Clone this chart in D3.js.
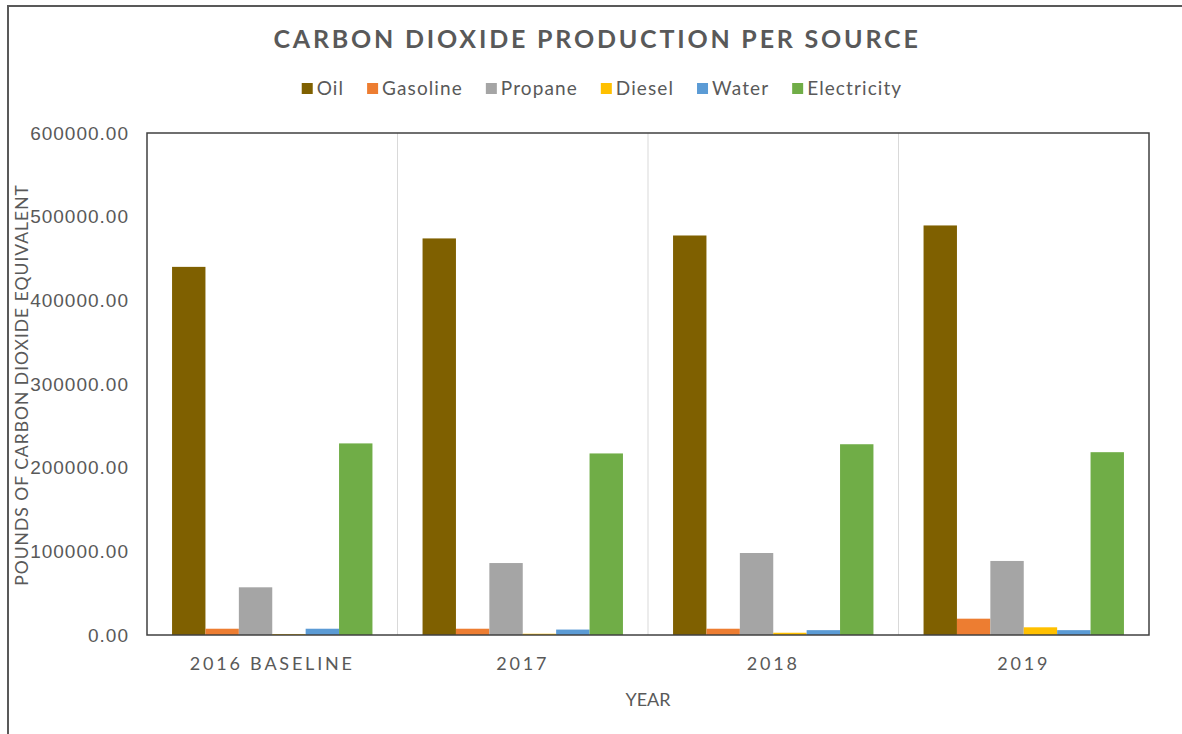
<!DOCTYPE html>
<html>
<head>
<meta charset="utf-8">
<script src="https://cdn.jsdelivr.net/npm/d3@7"></script>
<style>
  body { margin: 0; background: #fff; }
  text { font-family: Lato, "Open Sans", sans-serif; }
</style>
</head>
<body>
<div id="chart"></div>
<script>
// ---------------------------------------------------------------------------
// DATA
// ---------------------------------------------------------------------------
const years = ["2016 BASELINE", "2017", "2018", "2019"];
const sources = ["Oil", "Gasoline", "Propane", "Diesel", "Water", "Electricity"];
const colors = ["#7f6000", "#ed7d31", "#a5a5a5", "#ffc000", "#5b9bd5", "#70ad47"];

// values per source, one entry per year
const oil = [440000, 474000, 477500, 489500];
const gasoline = [7500, 7500, 7500, 19500];
const propane = [57000, 86000, 98000, 88500];
const diesel = [1200, 1500, 2700, 9200];
const water = [7500, 6500, 5800, 5800];
const electricity = [229000, 217000, 228000, 218500];

const yTicks = [0, 100000, 200000, 300000, 400000, 500000, 600000];

const seriesValues = [oil, gasoline, propane, diesel, water, electricity];

// ---------------------------------------------------------------------------
// SETUP
// ---------------------------------------------------------------------------
const W = 1182, H = 734;
const margin = { top: 133, right: 33, bottom: 99, left: 147 };
const width = W - margin.left - margin.right;
const height = H - margin.top - margin.bottom;

const root = d3.select('#chart').append('svg')
    .attr('width', W)
    .attr('height', H);

// outer chart frame
root.append('rect')
    .attr('x', 8)
    .attr('y', 6)
    .attr('width', W + 10)
    .attr('height', H + 10)
    .attr('fill', 'none')
    .attr('stroke', '#595959')
    .attr('stroke-width', 2);

const svg = root.append('g')
    .attr('transform', `translate(${margin.left},${margin.top})`);

// ---------------------------------------------------------------------------
// SCALES
// ---------------------------------------------------------------------------
const x0 = d3.scaleBand()
    .domain(years)
    .range([0, width])
    .paddingInner(0.2)
    .paddingOuter(0.1);

const x1 = d3.scaleBand()
    .domain(sources)
    .range([0, x0.bandwidth()]);

const y = d3.scaleLinear()
    .domain([0, 600000])
    .range([height, 0]);

const color = d3.scaleOrdinal().domain(sources).range(colors);

// ---------------------------------------------------------------------------
// CATEGORY SEPARATORS
// ---------------------------------------------------------------------------
svg.append('g')
    .selectAll('line')
    .data(years.slice(1))
    .join('line')
    .attr('x1', d => x0(d) - x0.step() * 0.1)
    .attr('x2', d => x0(d) - x0.step() * 0.1)
    .attr('y1', 0)
    .attr('y2', height)
    .attr('stroke', '#d9d9d9')
    .attr('stroke-width', 1);

// ---------------------------------------------------------------------------
// BARS
// ---------------------------------------------------------------------------
sources.forEach((src, si) => {
    svg.append('g')
        .selectAll('rect')
        .data(seriesValues[si].map((v, i) => ({ year: years[i], value: v })))
        .join('rect')
        .attr('x', d => x0(d.year) + x1(src))
        .attr('y', d => y(d.value))
        .attr('width', x1.bandwidth())
        .attr('height', d => height - y(d.value))
        .attr('fill', color(src));
});

// plot area border
svg.append('rect')
    .attr('x', 0)
    .attr('y', 0)
    .attr('width', width)
    .attr('height', height)
    .attr('fill', 'none')
    .attr('stroke', '#404040')
    .attr('stroke-width', 1.5);

// ---------------------------------------------------------------------------
// AXES
// ---------------------------------------------------------------------------
const yAxis = d3.axisLeft(y)
    .tickValues(yTicks)
    .tickSize(0)
    .tickPadding(18)
    .tickFormat(d3.format('.2f'));

svg.append('g')
    .call(yAxis)
    .call(g => g.select('.domain').remove())
    .selectAll('text')
    .style('font-family', '"Liberation Sans", Arial, sans-serif')
    .style('font-size', '19px')
    .style('letter-spacing', '1px')
    .attr('fill', '#595959');

const xAxis = d3.axisBottom(x0).tickSize(0).tickPadding(22);

svg.append('g')
    .attr('transform', `translate(0,${height})`)
    .call(xAxis)
    .call(g => g.select('.domain').remove())
    .selectAll('text')
    .style('font-size', '18px')
    .style('letter-spacing', '2.8px')
    .attr('fill', '#595959');

// ---------------------------------------------------------------------------
// LABELS
// ---------------------------------------------------------------------------
root.append('text')
    .attr('x', 597)
    .attr('y', 48)
    .attr('text-anchor', 'middle')
    .style('font-size', '25px')
    .style('font-weight', 'bold')
    .style('letter-spacing', '2.8px')
    .attr('fill', '#595959')
    .text('CARBON DIOXIDE PRODUCTION PER SOURCE');

svg.append('text')
    .attr('x', width / 2)
    .attr('y', height + 71)
    .attr('text-anchor', 'middle')
    .style('font-size', '18px')
    .attr('fill', '#595959')
    .text('YEAR');

root.append('text')
    .attr('transform', 'rotate(-90)')
    .attr('x', -385)
    .attr('y', 28)
    .attr('text-anchor', 'middle')
    .style('font-size', '17.5px')
    .style('letter-spacing', '1px')
    .attr('fill', '#595959')
    .text('POUNDS OF CARBON DIOXIDE EQUIVALENT');

// ---------------------------------------------------------------------------
// LEGEND
// ---------------------------------------------------------------------------
const legend = root.append('g').attr('transform', 'translate(0, 89)');
const items = [];
sources.forEach((src) => {
    const item = legend.append('g');
    item.append('rect')
        .attr('x', 0)
        .attr('y', -6)
        .attr('width', 11)
        .attr('height', 11)
        .attr('fill', color(src));
    item.append('text')
        .attr('x', 15)
        .attr('y', 6)
        .style('font-size', '19px')
        .style('letter-spacing', '1.1px')
        .attr('fill', '#595959')
        .text(src);
    const w = item.node().getBBox().width;
    items.push({ item, w });
});
const gap = 23;
const total = d3.sum(items, d => d.w) + gap * (items.length - 1);
let lx = 602 - total / 2;
items.forEach(d => {
    d.item.attr('transform', `translate(${lx},0)`);
    lx += d.w + gap;
});
</script>
</body>
</html>
